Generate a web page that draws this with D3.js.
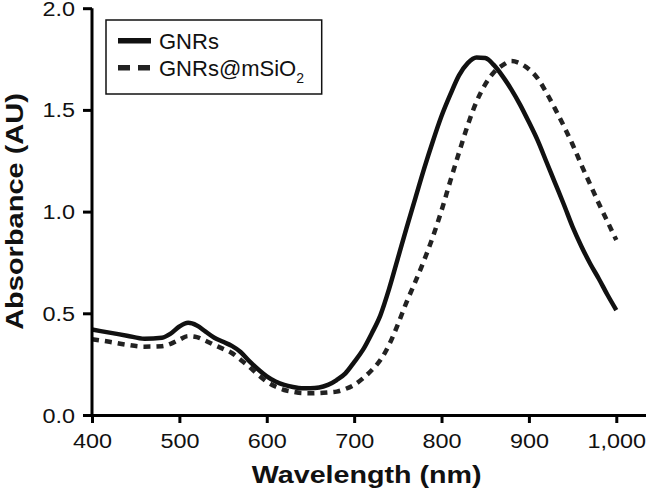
<!DOCTYPE html>
<html><head><meta charset="utf-8">
<script src="https://cdn.jsdelivr.net/npm/d3@7"></script>
<style>body{margin:0;background:#fff}svg{display:block}</style>
</head><body><svg id="c" width="646" height="493"></svg>
<script>
const wavelengths = [400,420,440,460,480,490,500,510,520,530,540,550,560,570,580,590,600,610,620,630,640,650,660,670,680,690,700,710,720,730,740,750,760,770,780,790,800,810,820,830,840,850,860,870,880,890,900,910,920,930,940,950,960,970,980,990,1000];
const gnrs = [0.42,0.405,0.39,0.375,0.38,0.40,0.435,0.453,0.44,0.41,0.38,0.36,0.34,0.31,0.265,0.225,0.19,0.165,0.148,0.138,0.132,0.132,0.135,0.148,0.172,0.205,0.26,0.32,0.40,0.49,0.62,0.77,0.92,1.065,1.21,1.345,1.47,1.575,1.67,1.73,1.758,1.755,1.72,1.665,1.60,1.525,1.44,1.35,1.245,1.14,1.035,0.925,0.83,0.745,0.67,0.59,0.516];
const gnrsSiO2 = [0.372,0.36,0.345,0.336,0.338,0.35,0.37,0.388,0.383,0.365,0.344,0.325,0.305,0.272,0.237,0.198,0.164,0.14,0.123,0.114,0.108,0.107,0.108,0.111,0.115,0.128,0.148,0.18,0.22,0.27,0.345,0.445,0.555,0.655,0.76,0.875,1.005,1.15,1.29,1.425,1.54,1.625,1.685,1.72,1.74,1.728,1.70,1.655,1.585,1.505,1.42,1.33,1.23,1.135,1.04,0.95,0.86];
const xTicks = [400,500,600,700,800,900,1000];
const yTicks = [0.0,0.5,1.0,1.5,2.0];
const seriesNames = ["GNRs","GNRs@mSiO"];

const svg = d3.select("#c");
const FONT = "'Liberation Sans', Arial, Helvetica, sans-serif";
const x = d3.scaleLinear().domain([400,1034]).range([92,646]);
const y = d3.scaleLinear().domain([0,2]).range([415,8.2]);
const SX = 1.2;

// curves
const line = d3.line().x((d,i)=>x(wavelengths[i])).y(d=>y(d)).curve(d3.curveMonotoneX);
svg.append("path").datum(gnrs).attr("d",line).attr("fill","none")
  .attr("stroke","#111").attr("stroke-width",4.5).attr("stroke-linejoin","round");
svg.append("path").datum(gnrsSiO2).attr("d",line).attr("fill","none")
  .attr("stroke","#222").attr("stroke-width",4.5).attr("stroke-dasharray","7,6");

// axes
const xa = svg.append("g").attr("transform","translate(0,415)")
  .call(d3.axisBottom(x).tickValues(xTicks).tickFormat(d3.format(",")).tickSize(8).tickSizeOuter(0));
const ya = svg.append("g").attr("transform","translate(92,0)")
  .call(d3.axisLeft(y).tickValues(yTicks).tickFormat(d3.format(".1f")).tickSize(9).tickSizeOuter(0));
[xa,ya].forEach(g=>{
  g.selectAll("path.domain").attr("stroke","#000").attr("stroke-width",3);
  g.selectAll(".tick line").attr("stroke","#000").attr("stroke-width",3);
  g.selectAll(".tick text").attr("fill","#111").style("font-family",FONT).style("font-size","19.5px");
});
ya.select("path.domain").attr("d","M0,"+y(2)+"V415");
xa.selectAll(".tick text").attr("y",33).attr("dy",0).attr("transform",`scale(${SX},1)`);
ya.selectAll(".tick text").attr("x",-17/SX).attr("dy","0.36em").attr("transform",`scale(${SX},1)`);

// titles
svg.append("text").attr("transform",`translate(366.7,483.3) scale(1.23,1)`)
  .attr("text-anchor","middle").style("font-family",FONT).style("font-weight","bold")
  .style("font-size","23.3px").attr("fill","#111").text("Wavelength (nm)");
svg.append("text").attr("transform",`translate(23,211.5) rotate(-90) scale(1.26,1)`)
  .attr("text-anchor","middle").style("font-family",FONT).style("font-weight","bold")
  .style("font-size","23px").attr("fill","#111").text("Absorbance (AU)");

// legend
const lg = svg.append("g");
lg.append("rect").attr("x",106).attr("y",20).attr("width",215.7).attr("height",74)
  .attr("fill","#fff").attr("stroke","#111").attr("stroke-width",1.5);
lg.append("line").attr("x1",118).attr("x2",151).attr("y1",40.7).attr("y2",40.7)
  .attr("stroke","#111").attr("stroke-width",5.5);
lg.append("line").attr("x1",118).attr("x2",151).attr("y1",67.7).attr("y2",67.7)
  .attr("stroke","#222").attr("stroke-width",5.5).attr("stroke-dasharray","12,8");
lg.append("text").attr("x",159).attr("y",49).style("font-family",FONT).style("font-size","22px")
  .attr("fill","#111").text(seriesNames[0]);
const t2 = lg.append("text").attr("x",159).attr("y",75.5).style("font-family",FONT).style("font-size","22px")
  .attr("fill","#111");
t2.append("tspan").text(seriesNames[1]);
t2.append("tspan").attr("dy",7).style("font-size","14px").text("2");
</script></body></html>
